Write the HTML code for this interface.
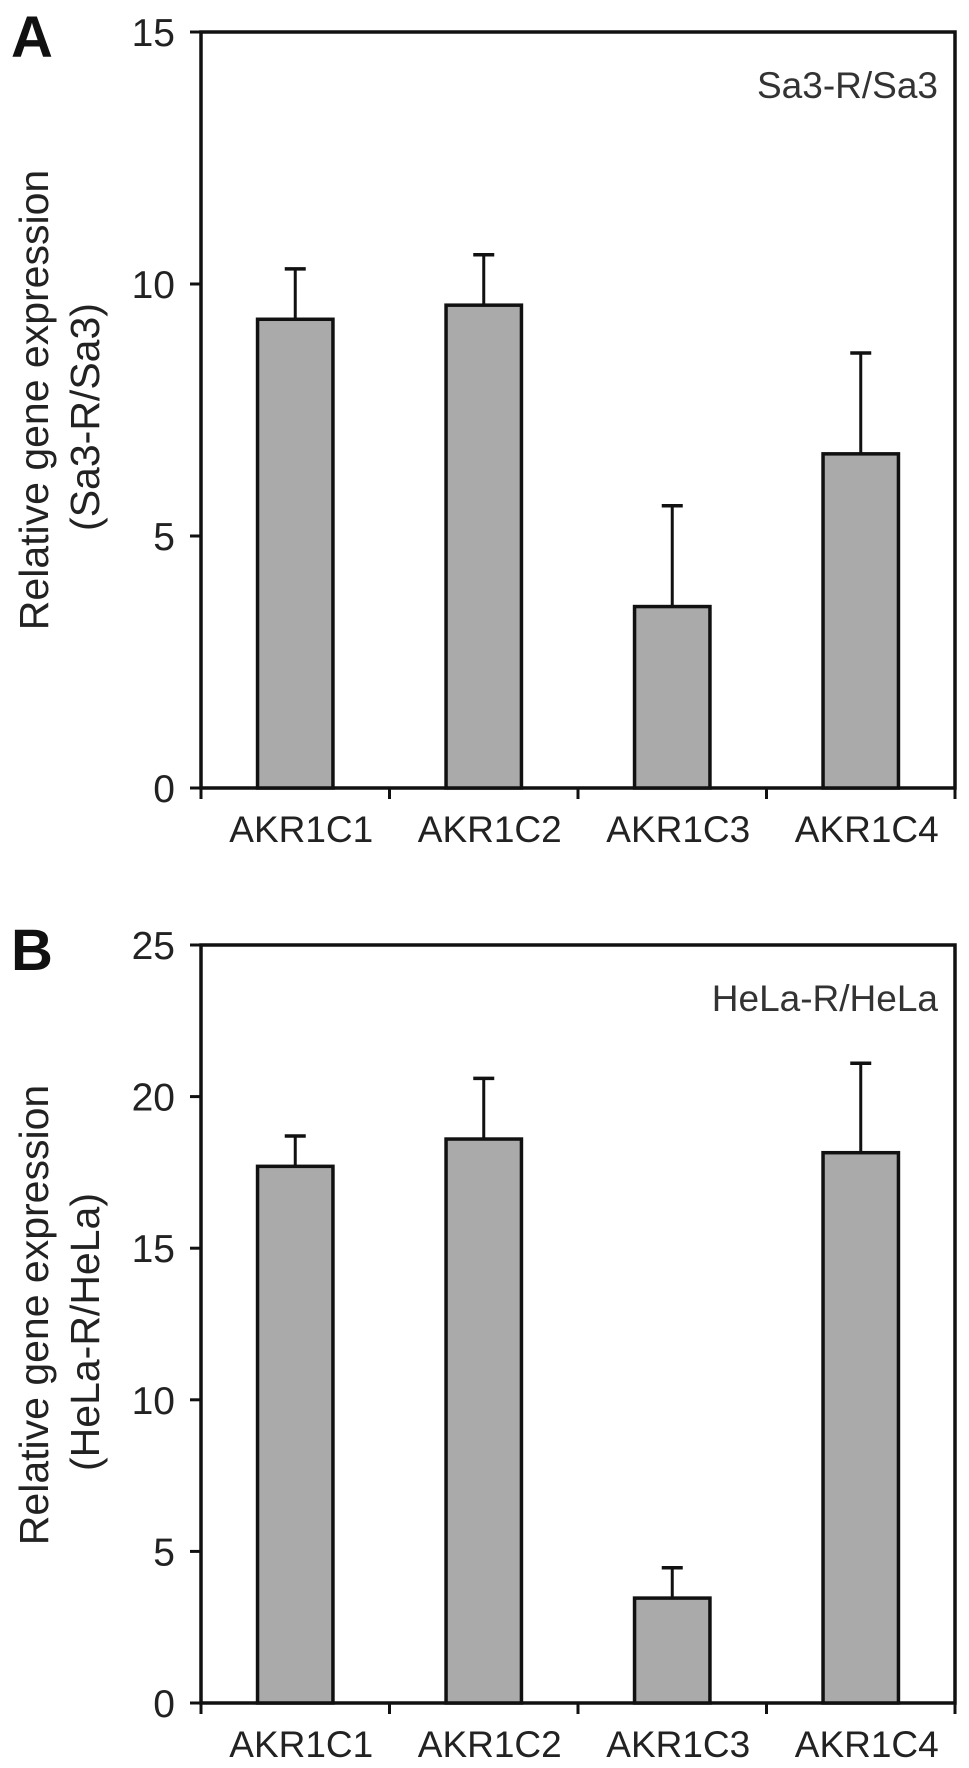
<!DOCTYPE html>
<html><head><meta charset="utf-8"><style>
html,body{margin:0;padding:0;background:#fff;}
svg{display:block;font-family:"Liberation Sans",Arial,sans-serif;}
</style></head><body>
<svg id="fig" width="969" height="1768" viewBox="0 0 969 1768" xmlns="http://www.w3.org/2000/svg"></svg>
<script>
const categories = ["AKR1C1","AKR1C2","AKR1C3","AKR1C4"];
const valuesA = [9.3, 9.58, 3.6, 6.63];
const errorsA = [1.0, 1.0, 2.0, 2.0];
const ticksA = [0, 5, 10, 15];
const valuesB = [17.7, 18.6, 3.46, 18.15];
const errorsB = [1.0, 2.0, 1.0, 2.95];
const ticksB = [0, 5, 10, 15, 20, 25];

const NS = "http://www.w3.org/2000/svg";
const svg = document.getElementById("fig");
function mk(tag, attrs, parent) {
  const e = document.createElementNS(NS, tag);
  for (const k in attrs) e.setAttribute(k, attrs[k]);
  (parent || svg).appendChild(e);
  return e;
}

function panel(cfg) {
  const g = mk("g", {});
  
  
  const x0 = 201, x1 = 955, yTop = cfg.yTop, yBot = cfg.yBot;
  const ymax = cfg.ticks[cfg.ticks.length - 1];
  const yS = v => yBot - (v / ymax) * (yBot - yTop);
  const band = (x1 - x0) / cfg.cats.length;
  const xC = i => x0 + band * (i + 0.5);
  const bw = band * 0.4;

  const fr = mk("rect", {x: x0, y: yTop, width: x1 - x0, height: yBot - yTop, fill: "none", stroke: "#111", "stroke-width": 3.5}, g);
  
  

  cfg.ticks.forEach(t => {
    const y = yS(t);
    const tl = mk("line", {x1: x0 - 11, x2: x0, y1: y, y2: y, stroke: "#111", "stroke-width": 3}, g);
    
    
    const tx = mk("text", {x: 175, y: y + 14, "text-anchor": "end", "font-size": 39, fill: "#222"}, g);
    tx.textContent = t;
    
    
  });
  for (let i = 0; i <= cfg.cats.length; i++) {
    const x = x0 + band * i;
    const xt = mk("line", {x1: x, x2: x, y1: yBot, y2: yBot + 11, stroke: "#111", "stroke-width": 3}, g);
    
    
  }
  cfg.cats.forEach((c, i) => {
    const v = cfg.vals[i], e = cfg.errs[i], cx = xC(i);
    const eb = mk("line", {x1: cx, x2: cx, y1: yS(v), y2: yS(v + e), stroke: "#111", "stroke-width": 3}, g);
    
    
    const cap = mk("line", {x1: cx - 10.5, x2: cx + 10.5, y1: yS(v + e), y2: yS(v + e), stroke: "#111", "stroke-width": 3.5}, g);
    
    
    const r = mk("rect", {x: cx - bw / 2, y: yS(v), width: bw, height: yBot - yS(v), fill: "#aaaaaa", stroke: "#111", "stroke-width": 3.5}, g);
    
    
    const lb = mk("text", {x: cx + 6, y: yBot + 54, "text-anchor": "middle", "font-size": 37, fill: "#222"}, g);
    lb.textContent = c;
    
    
  });
  const lg = mk("text", {x: 938, y: yTop + 66, "text-anchor": "end", "font-size": 37, fill: "#333"}, g);
  lg.textContent = cfg.legend;
  
  
  const pl = mk("text", {x: 11, y: yTop + 25, "font-size": 58, "font-weight": "bold", fill: "#111"}, g);
  pl.textContent = cfg.letter;
  
  
  const t1 = mk("text", {x: 0, y: 0, transform: "translate(48," + cfg.titleY1 + ") rotate(-90)", "text-anchor": "middle", "font-size": 41, fill: "#222"}, g);
  t1.textContent = "Relative gene expression";
  
  
  const t2 = mk("text", {x: 0, y: 0, transform: "translate(99," + cfg.titleY2 + ") rotate(-90)", "text-anchor": "middle", "font-size": 41, fill: "#222"}, g);
  t2.textContent = cfg.sub;
  
  
}

panel({name: "panel-a", letter: "A", yTop: 32, yBot: 788, cats: categories, vals: valuesA, errs: errorsA, ticks: ticksA, legend: "Sa3-R/Sa3", sub: "(Sa3-R/Sa3)", titleY1: 400, titleY2: 417});
panel({name: "panel-b", letter: "B", yTop: 945, yBot: 1703, cats: categories, vals: valuesB, errs: errorsB, ticks: ticksB, legend: "HeLa-R/HeLa", sub: "(HeLa-R/HeLa)", titleY1: 1315, titleY2: 1332});
</script>
</body></html>
